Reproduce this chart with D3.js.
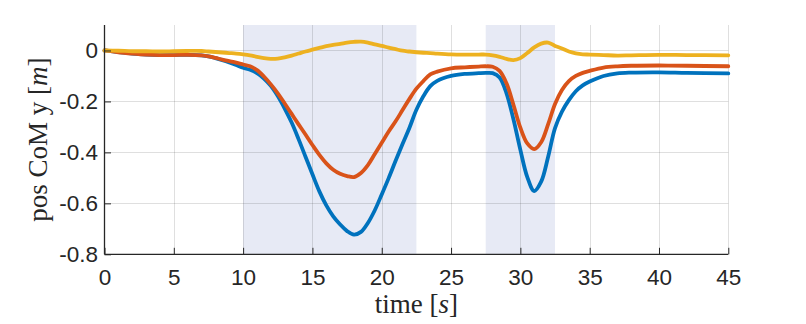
<!DOCTYPE html>
<html><head><meta charset="utf-8">
<script src="https://cdn.jsdelivr.net/npm/d3@7"></script>
<style>body{margin:0;background:#fff}svg{display:block}</style>
</head><body><div id="chart"></div>
<script>
const time = [0,1,2,3,4,5,6,7,7.5,8,8.5,9,9.5,10,10.5,11,11.5,12,12.5,13,13.5,14,14.5,15,15.5,16,16.5,17,17.5,18,18.5,19,19.5,20,20.5,21,21.5,22,22.5,23,23.5,24,25,26,27,27.5,28,28.5,29,29.5,30,30.5,31,31.5,32,32.5,33,33.5,34,34.5,35,36,37,38,40,42,45];
const blue = [0,-0.006,-0.012,-0.016,-0.018,-0.018,-0.017,-0.019,-0.023,-0.030,-0.038,-0.047,-0.057,-0.068,-0.076,-0.089,-0.110,-0.139,-0.179,-0.228,-0.283,-0.348,-0.417,-0.486,-0.553,-0.608,-0.651,-0.683,-0.709,-0.723,-0.712,-0.677,-0.627,-0.565,-0.501,-0.433,-0.367,-0.303,-0.233,-0.180,-0.140,-0.119,-0.100,-0.092,-0.089,-0.088,-0.089,-0.106,-0.168,-0.270,-0.390,-0.497,-0.552,-0.515,-0.418,-0.305,-0.240,-0.195,-0.160,-0.137,-0.122,-0.100,-0.090,-0.087,-0.086,-0.088,-0.090];
const orange = [0,-0.007,-0.012,-0.016,-0.018,-0.018,-0.017,-0.019,-0.023,-0.029,-0.036,-0.042,-0.048,-0.055,-0.062,-0.077,-0.102,-0.133,-0.168,-0.208,-0.249,-0.290,-0.330,-0.371,-0.410,-0.443,-0.468,-0.484,-0.493,-0.497,-0.481,-0.450,-0.406,-0.362,-0.318,-0.278,-0.234,-0.190,-0.150,-0.120,-0.094,-0.083,-0.070,-0.066,-0.063,-0.062,-0.064,-0.080,-0.129,-0.213,-0.303,-0.365,-0.387,-0.360,-0.290,-0.210,-0.155,-0.120,-0.100,-0.088,-0.080,-0.067,-0.062,-0.060,-0.059,-0.060,-0.062];
const yellow = [0,-0.001,-0.003,-0.003,-0.004,-0.003,-0.002,-0.002,-0.004,-0.006,-0.008,-0.010,-0.012,-0.015,-0.019,-0.025,-0.030,-0.033,-0.032,-0.027,-0.020,-0.012,-0.004,0.003,0.010,0.017,0.022,0.026,0.031,0.034,0.035,0.031,0.024,0.018,0.011,0.005,-0.001,-0.004,-0.007,-0.009,-0.010,-0.012,-0.015,-0.016,-0.016,-0.016,-0.019,-0.025,-0.033,-0.038,-0.030,-0.010,0.012,0.027,0.031,0.018,0.008,-0.004,-0.011,-0.015,-0.016,-0.018,-0.020,-0.019,-0.017,-0.018,-0.019];
const shadedStart = [10, 27.5];
const shadedEnd = [22.5, 32.5];
const xTicks = [0,5,10,15,20,25,30,35,40,45];
const yTicks = [0,-0.2,-0.4,-0.6,-0.8];

const W = 806, H = 324;
const m = {left:104.5, right:77.7, top:25, bottom:69.7};
const svg = d3.select("#chart").append("svg").attr("width", W).attr("height", H);
const x = d3.scaleLinear().domain([0,45]).range([m.left, W - m.right]);
const y = d3.scaleLinear().domain([-0.8,0.1]).range([H - m.bottom, m.top]);

// shaded intervals
svg.append("g").selectAll("rect").data(shadedStart.map((s,i)=>[s, shadedEnd[i]])).join("rect")
  .attr("x", d=>x(d[0])).attr("width", d=>x(d[1])-x(d[0]))
  .attr("y", y(0.1)).attr("height", y(-0.8)-y(0.1))
  .attr("fill", "#e7eaf5");

// grid
const grid = svg.append("g").attr("stroke", "rgba(38,38,38,0.15)").attr("stroke-width", 1);
grid.selectAll(".gx").data(xTicks.slice(1)).join("line")
  .attr("x1", d=>Math.round(x(d))+0.5).attr("x2", d=>Math.round(x(d))+0.5)
  .attr("y1", y(0.1)).attr("y2", y(-0.8));
grid.selectAll(".gy").data(yTicks.slice(0,-1)).join("line")
  .attr("y1", d=>Math.round(y(d))+0.5).attr("y2", d=>Math.round(y(d))+0.5)
  .attr("x1", x(0)).attr("x2", x(45));

// lines
const series = [{v:blue, c:"#0072BD"},{v:orange, c:"#D95319"},{v:yellow, c:"#EDB120"}];
const line = d3.line().x((d,i)=>x(time[i])).y(d=>y(d)).curve(d3.curveCatmullRom.alpha(0.5));
svg.append("g").selectAll("path").data(series).join("path")
  .attr("d", d=>line(d.v)).attr("fill","none").attr("stroke", d=>d.c)
  .attr("stroke-width", 3.8).attr("stroke-linejoin","round").attr("stroke-linecap","round");

// axes
const axColor = "#262626";
const xAxis = svg.append("g").attr("transform", `translate(0,${y(-0.8)})`)
  .call(d3.axisBottom(x).tickValues(xTicks).tickSize(-6.5).tickPadding(14.5).tickFormat(d3.format("d")));
const yAxis = svg.append("g").attr("transform", `translate(${x(0)},0)`)
  .call(d3.axisLeft(y).tickValues(yTicks).tickSize(-6.5).tickPadding(6.5).tickFormat(d=>d===0?"0":d3.format(".1f")(d).replace("−","-")));
[xAxis, yAxis].forEach(a=>{
  a.attr("font-size", null).attr("font-family", null);
  a.select(".domain").attr("stroke", axColor).attr("stroke-width", 1.3);
  a.selectAll(".tick line").attr("stroke", axColor).attr("stroke-width", 1);
  a.selectAll("text").attr("fill", axColor).style("font-family", "'Liberation Sans', Arial, sans-serif").style("font-size", "22.5px");
});
yAxis.select(".domain").attr("d", `M0,${y(-0.8)}V${y(0.1)}`);
xAxis.select(".domain").attr("d", `M${x(0)},0H${x(45)}`);

// axis labels
const serif = "'Liberation Serif', 'Times New Roman', serif";
const xl = svg.append("text").attr("x", (x(0)+x(45))/2).attr("y", 313)
  .attr("text-anchor","middle").style("font-family", serif).style("font-size","27px").attr("fill","#262626");
xl.append("tspan").text("time [");
xl.append("tspan").style("font-style","italic").text("s");
xl.append("tspan").text("]");
const yl = svg.append("text").attr("transform", `translate(47,${(y(0.1)+y(-0.8))/2}) rotate(-90)`)
  .attr("text-anchor","middle").style("font-family", serif).style("font-size","27px").attr("fill","#262626");
yl.append("tspan").text("pos CoM y [");
yl.append("tspan").style("font-style","italic").text("m");
yl.append("tspan").text("]");
</script></body></html>
